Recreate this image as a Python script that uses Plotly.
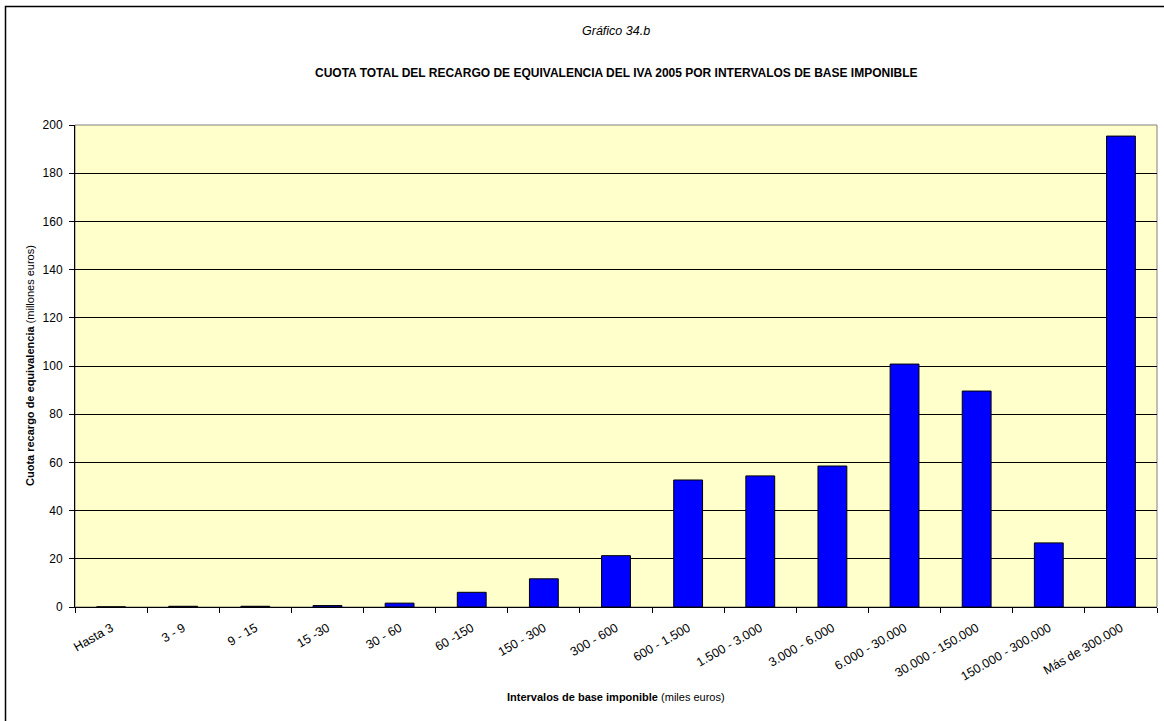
import plotly.graph_objects as go

categories = ["Hasta 3", "3 - 9", "9 - 15", "15 -30", "30 - 60", "60 -150", "150 - 300",
              "300 - 600", "600 - 1.500", "1.500 - 3.000", "3.000 - 6.000",
              "6.000 - 30.000", "30.000 - 150.000", "150.000 - 300.000", "Más de 300.000"]
values = [0.05, 0.3, 0.3, 0.6, 1.6, 6.1, 11.7, 21.3, 52.7, 54.4, 58.5, 100.8, 89.6, 26.6, 195.4]
y_ticks = [0, 20, 40, 60, 80, 100, 120, 140, 160, 180, 200]

FONT = "Liberation Sans, Arial, sans-serif"

fig = go.Figure(go.Bar(
    x=categories, y=values,
    marker=dict(color="#0000FF", line=dict(color="#000000", width=1)),
    hoverinfo="x+y",
))

L, R, T, B = 75, 7, 125, 114
W, H = 1164, 721
pw, ph = W - L - R, H - T - B

def px(x):
    return (x - L) / pw

def py(y):
    return (H - B - y) / ph

fig.update_layout(
    width=W, height=H,
    margin=dict(l=L, r=R, t=T, b=B, pad=0),
    paper_bgcolor="white",
    plot_bgcolor="#FFFFCC",
    bargap=0.6,
    showlegend=False,
    font=dict(family=FONT, size=11, color="black"),
    xaxis=dict(
        type="category", tickson="boundaries", ticks="outside", ticklen=5,
        tickcolor="black", tickangle=-30, showline=True, linecolor="black",
        linewidth=1, showgrid=False, tickfont=dict(size=12.5, family=FONT),
        ticklabelstandoff=8, mirror=False,
    ),
    yaxis=dict(
        range=[0, 200], tickvals=y_ticks, ticks="outside", ticklen=5,
        tickcolor="black", showline=True, linecolor="black", linewidth=1,
        showgrid=True, gridcolor="#000000", gridwidth=1, zeroline=False,
        tickfont=dict(size=12, family=FONT), ticklabelstandoff=4,
    ),
    annotations=[
        dict(text="<i>Gráfico 34.b</i>", x=0.5, y=py(31), xref="paper", yref="paper",
             showarrow=False, xanchor="center", yanchor="middle",
             font=dict(size=12.5, family=FONT)),
        dict(text="<b>CUOTA TOTAL DEL RECARGO DE EQUIVALENCIA DEL IVA 2005 POR INTERVALOS DE BASE IMPONIBLE</b>",
             x=0.5, y=py(73), xref="paper", yref="paper",
             showarrow=False, xanchor="center", yanchor="middle",
             font=dict(size=12, family=FONT)),
        dict(text="<b>Intervalos de base imponible</b> (miles euros)",
             x=px(616), y=py(697), xref="paper", yref="paper",
             showarrow=False, xanchor="center", yanchor="middle",
             font=dict(size=11, family=FONT)),
        dict(text="<b>Cuota recargo de equivalencia</b> (millones euros)",
             x=px(30), y=py(366), xref="paper", yref="paper", textangle=-90,
             showarrow=False, xanchor="center", yanchor="middle",
             font=dict(size=11, family=FONT)),
    ],
    shapes=[
        dict(type="rect", xref="paper", yref="paper",
             x0=px(5.5), y0=py(6.5), x1=px(W + 20), y1=py(H + 20),
             line=dict(color="black", width=1.5), fillcolor="rgba(0,0,0,0)", layer="above"),
        dict(type="rect", xref="paper", yref="paper", x0=0, y0=0, x1=1, y1=1,
             line=dict(color="#808080", width=1), fillcolor="rgba(0,0,0,0)", layer="below"),
    ],
)

fig.write_html(
    "out.html",
    config={"displayModeBar": False},
    post_script="document.body.style.margin='0';document.body.style.padding='0';document.body.style.overflow='hidden';",
)
